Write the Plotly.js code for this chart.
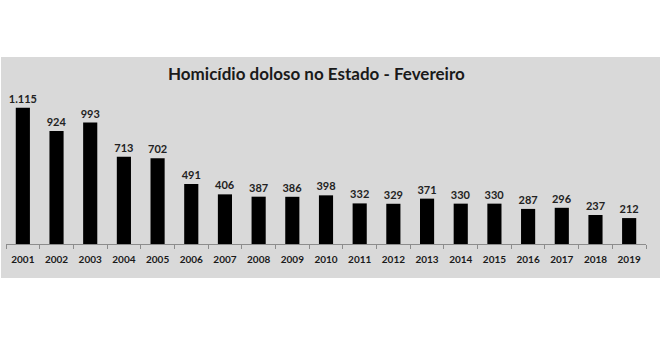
<!DOCTYPE html>
<html>
<head>
<meta charset="utf-8">
<script src="https://cdn.plot.ly/plotly-3.0.1.min.js"></script>
<style>html,body{margin:0;padding:0;background:#fff;}</style>
</head>
<body>
<div id="chart" style="width:660px;height:360px;"></div>
<script>
const years = ["2001","2002","2003","2004","2005","2006","2007","2008","2009","2010","2011","2012","2013","2014","2015","2016","2017","2018","2019"];
const values = [1115,924,993,713,702,491,406,387,386,398,332,329,371,330,330,287,296,237,212];
const labels = ["1.115","924","993","713","702","491","406","387","386","398","332","329","371","330","330","287","296","237","212"];
const titleText = "Homicídio doloso no Estado - Fevereiro";

const trace = {
  type: "bar",
  x: years,
  y: values,
  text: labels,
  texttemplate: "<b>%{text}</b>",
  textposition: "outside",
  constraintext: "none",
  cliponaxis: false,
  textfont: {family: "Lato, 'Open Sans', sans-serif", size: 11, color: "#222"},
  marker: {color: "#000000"},
  hoverinfo: "x+y"
};

const layout = {
  width: 660, height: 360,
  margin: {l: 6, r: 14, t: 60, b: 116},
  paper_bgcolor: "#ffffff",
  plot_bgcolor: "rgba(0,0,0,0)",
  bargap: 0.58,
  showlegend: false,
  title: {
    text: "<b>" + titleText + "</b>",
    font: {family: "Lato, 'Open Sans', sans-serif", size: 17, color: "#1a1a1a"},
    x: 0.485, xref: "paper", xanchor: "center",
    y: 1 - 74/360, yref: "container", yanchor: "middle"
  },
  xaxis: {
    type: "category",
    showline: true, linecolor: "#8c8c8c", linewidth: 1,
    ticks: "outside", tickson: "boundaries", ticklen: 4, tickcolor: "#8c8c8c",
    ticklabelstandoff: 6,
    tickfont: {family: "Lato, 'Open Sans', sans-serif", size: 10, color: "#1a1a1a"},
    tickprefix: "<b>", ticksuffix: "</b>",
    showgrid: false, zeroline: false,
    fixedrange: true
  },
  yaxis: {
    range: [0, 1505],
    visible: false,
    showgrid: false, zeroline: false,
    fixedrange: true
  },
  shapes: [{
    type: "rect", layer: "below",
    xref: "paper", yref: "paper",
    x0: (1-6)/640, x1: (660-6)/640,
    y0: (244-278)/184, y1: (244-57)/184,
    fillcolor: "#d9d9d9", line: {width: 0}
  }]
};

Plotly.newPlot("chart", [trace], layout, {displayModeBar: false, staticPlot: true});
</script>
</body>
</html>
